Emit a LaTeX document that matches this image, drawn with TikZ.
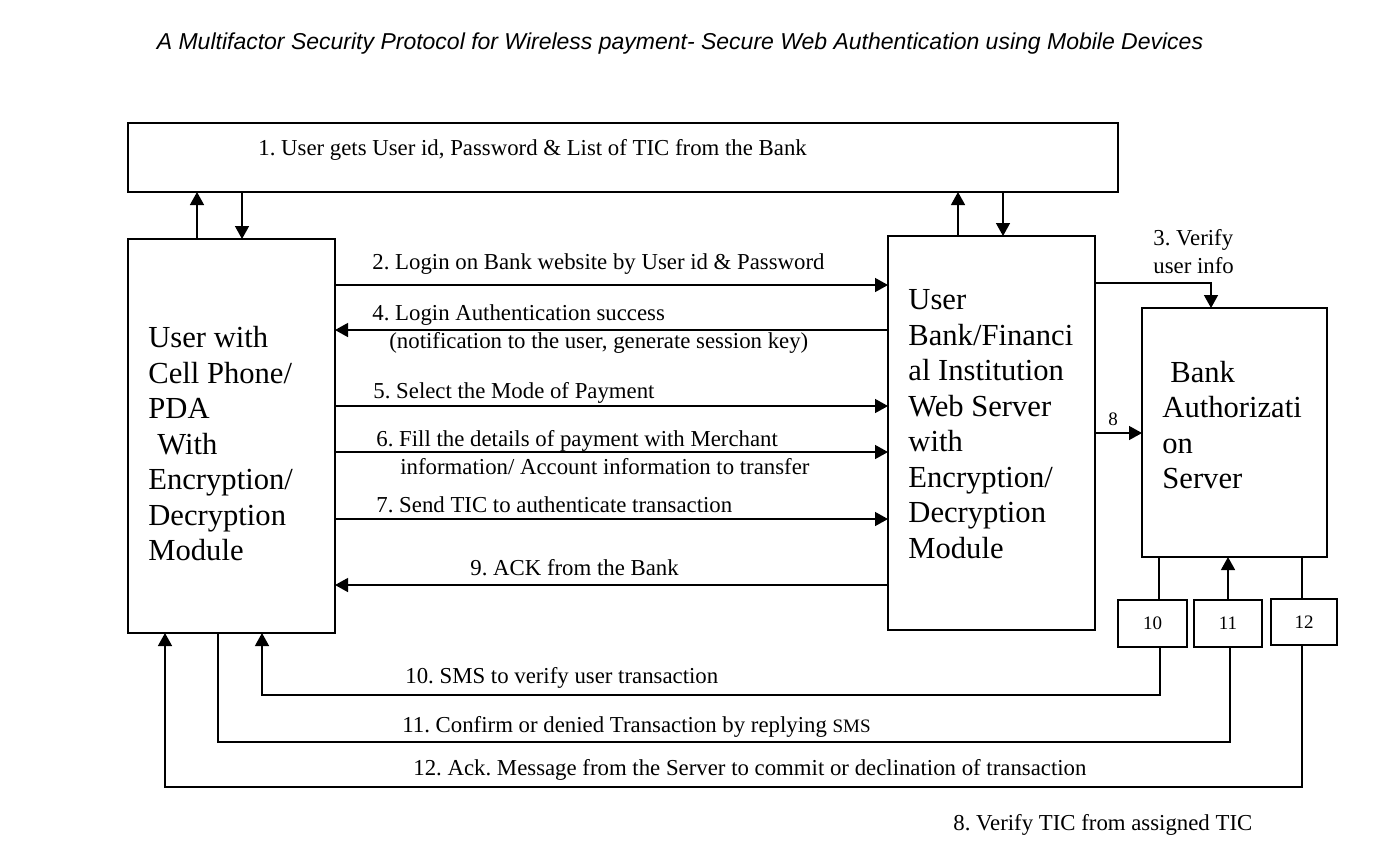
\documentclass[tikz,border=0pt]{standalone}
\usepackage{fontspec}
\setmainfont{Liberation Serif}
\newfontfamily\titlefont{Liberation Sans}
\usetikzlibrary{arrows.meta}
\frenchspacing
\begin{document}
\begin{tikzpicture}[x=0.5pt,y=-0.5pt,
  box/.style={draw,line width=0.9pt,inner sep=0pt,outer sep=0pt,anchor=north west},
  arr/.style={line width=0.7pt,-{Triangle[length=6.5pt,width=7pt]}},
  ln/.style={line width=0.7pt},
  lbl/.style={anchor=west,inner sep=0pt,yshift=-1pt,font=\frenchspacing\fontsize{11.4}{13}\selectfont},
  big/.style={anchor=west,inner sep=0pt,align=left,font=\fontsize{15.3}{17.75}\selectfont},
  num/.style={font=\fontsize{9.5}{11}\selectfont}]
\useasboundingbox (0,0) rectangle (1384,864);
% title
\node[inner sep=0pt] (title) at (680,44) {\titlefont\itshape\fontsize{11.5}{13}\selectfont A Multifactor Security Protocol for Wireless payment- Secure Web Authentication using Mobile Devices};
% boxes
\node[box,minimum width=495pt,minimum height=34.5pt] (top) at (128,123) {};
\node[box,minimum width=103.5pt,minimum height=197pt] (user) at (128,239) {};
\node[box,minimum width=103.5pt,minimum height=197pt] (web) at (888,236) {};
\node[box,minimum width=92.5pt,minimum height=124.5pt] (auth) at (1142,308) {};
\node[box,minimum width=34.5pt,minimum height=23.5pt,num] (b10) at (1118,600) {10};
\node[box,minimum width=34pt,minimum height=23.5pt,num] (b11) at (1194,600) {11};
\node[box,minimum width=33pt,minimum height=23pt,num] (b12) at (1271,599) {12};
% box texts
\node[lbl] (t1) at (258,148) {1. User gets User id, Password \& List of TIC from the Bank};
\node[big] (tuser) at (148,444) {User with\\Cell Phone/\\PDA\\\hspace*{4.5pt}With\\Encryption/\\Decryption\\Module};
\node[big] (tweb) at (908,424) {User\\Bank/Financi\\al Institution\\Web Server\\with\\Encryption/\\Decryption\\Module};
\node[big] (tauth) at (1162,425) {\hspace*{4pt}Bank\\Authorizati\\on\\Server};
% top arrows
\draw[arr] (197,0 |- user.north) -- (197,0 |- top.south);
\draw[arr] (242,0 |- top.south) -- (242,0 |- user.north);
\draw[arr] (958,0 |- web.north) -- (958,0 |- top.south);
\draw[arr] (1003,0 |- top.south) -- (1003,0 |- web.north);
% 3 and 8
\draw[arr] (web.east |- 0,283) -| (1211,0 |- auth.north);
\node[lbl] (l3a) at (1153,238) {3. Verify};
\node[lbl] (l3b) at (1153,264) {user info};
\draw[arr] (web.east |- 0,433) -- (auth.west |- 0,433);
\node[num,inner sep=0pt] (l8) at (1113,419) {8};
% horizontal messages
\draw[arr] (user.east |- 0,285) -- (web.west |- 0,285);
\node[lbl] (l2) at (372,262) {2. Login on Bank website by User id \& Password};
\draw[arr] (web.west |- 0,330) -- (user.east |- 0,330);
\node[lbl] (l4a) at (372,313) {4. Login Authentication success};
\node[lbl] (l4b) at (389,341) {(notification to the user, generate session key)};
\draw[arr] (user.east |- 0,406) -- (web.west |- 0,406);
\node[lbl] (l5) at (373,391) {5. Select the Mode of Payment};
\draw[arr] (user.east |- 0,452) -- (web.west |- 0,452);
\node[lbl] (l6a) at (376,439) {6. Fill the details of payment with Merchant};
\node[lbl] (l6b) at (400,465) {information/ Account information to transfer};
\draw[arr] (user.east |- 0,519) -- (web.west |- 0,519);
\node[lbl] (l7) at (376,503) {7. Send TIC to authenticate transaction};
\draw[arr] (web.west |- 0,585) -- (user.east |- 0,585);
\node[lbl] (l9) at (470,566) {9. ACK from the Bank};
% 10
\draw[ln] (1159,0 |- auth.south) -- (1159,0 |- b10.north);
\draw[arr] (1160,0 |- b10.south) -- (1160,695) -| (262,0 |- user.south);
\node[lbl] (l10) at (405,676) {10. SMS to verify user transaction};
% 11
\draw[arr] (1228,0 |- b11.north) -- (1228,0 |- auth.south);
\draw[ln] (1230,0 |- b11.south) -- (1230,742) -| (218,0 |- user.south);
\node[lbl] (l11) at (402,725) {11. Confirm or denied Transaction by replying {\fontsize{9.5}{11}\selectfont SMS}};
% 12
\draw[ln] (1302,0 |- auth.south) -- (1302,0 |- b12.north);
\draw[arr] (1302,0 |- b12.south) -- (1302,787) -| (165,0 |- user.south);
\node[lbl] (l12) at (413,768) {12. Ack. Message from the Server to commit or declination of transaction};
% bottom note
\node[lbl] (l8b) at (953,823) {8. Verify TIC from assigned TIC};
\end{tikzpicture}
\end{document}
